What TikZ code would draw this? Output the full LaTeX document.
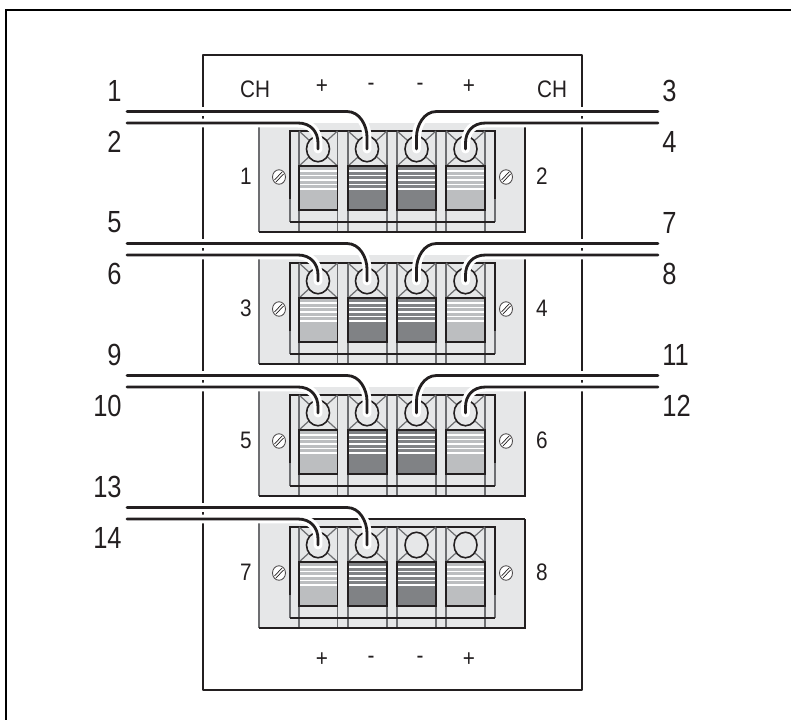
\documentclass[tikz,border=0pt]{standalone}
\usepackage{tkz-euclide}
\usepackage{fontspec}
\setmainfont{Liberation Sans}
\usetikzlibrary{shapes.geometric}
\definecolor{inkc}{HTML}{231F20}
\definecolor{edgec}{HTML}{6D6E71}
\definecolor{blockc}{HTML}{E6E7E8}
\definecolor{lightc}{HTML}{BCBEC0}
\definecolor{darkc}{HTML}{808285}
\tikzset{
  txt/.style={inner sep=0pt,font=\fontsize{11.8}{13}\selectfont,text=inkc,yscale=1.15,transform shape},
  num/.style={inner sep=0pt,font=\fontsize{14.5}{16}\selectfont,text=inkc,yscale=1.2,transform shape},
  thin line/.style={line width=0.7pt,color=edgec},
  dark line/.style={line width=1pt,color=inkc},
  post/.style={ellipse,draw=inkc,line width=0.9pt,fill=blockc,inner sep=0pt,minimum width=0.46cm,minimum height=0.51cm},
  screw/.style={ellipse,draw=inkc!80,line width=0.5pt,fill=white,inner sep=0pt,minimum width=0.26cm,minimum height=0.29cm},
  halo/.style={line width=5.1pt,color=white,line cap=round},
  wire/.style={line width=1.6pt,color=inkc,line cap=round},
}
\begin{document}
\begin{tikzpicture}[x=0.02cm,y=-0.02cm]
    \useasboundingbox (0,0) rectangle (791,720);
    \draw[line width=1.4pt] (6,720) -- (6,10) -- (791,10);
    \tkzDefPoints{203/55/A,582/55/B,582/690/C,203/690/D}
    \tkzDrawPolygon[line width=1.1pt,color=inkc](A,B,C,D)
    % heads of the panel
    \node[txt] (chl) at (255,89) {CH};
    \node[txt] (chr) at (552,89) {CH};
    \foreach \x/\s [count=\k] in {322/+,371/-,420/-,469/+}{
        \node[txt] (top\k) at (\x,87) {\s};
        \node[txt] (bot\k) at (\x,660) {\s};
    }
    % the four blocks
    \foreach \i/\y in {1/123,2/255,3/387,4/519}{
        \fill[blockc] (259,\y) rectangle (525,\y+109);
        \foreach \x in {299,337.5,348,387,397,436,446,485}
            \draw[thin line] (\x,\y+8) -- (\x,\y+109);
        \draw[thin line] (290,\y+8) -- (290,\y+99);
        \draw[thin line] (495,\y+8) -- (495,\y+99);
        \draw[line width=0.8pt,color=inkc] (290,\y+76) -- (290,\y+8) -- (495,\y+8) -- (495,\y+76);
        \draw[dark line] (290,\y+99) -- (495,\y+99);
        \draw[line width=0.8pt,color=edgec] (259,\y) -- (259,\y+109);
        \draw[dark line] (259,\y+109) -- (525,\y+109) -- (525,\y);
        \ifnum\i=4 \draw[dark line] (259,\y) -- (525,\y); \fi
        \foreach \j/\x/\w/\c/\cx in {1/299/38.5/lightc/318,2/348/39/darkc/367,3/397/39/darkc/416.5,4/446/39/lightc/465.5}{
            \draw[thin line] (\x,\y+8) -- (\x+\w,\y+43);
            \draw[thin line] (\x,\y+43) -- (\x+\w,\y+8);
            \fill[\c] (\x,\y+43) rectangle (\x+\w,\y+87);
            \foreach \d in {5,9.5,14,18.5,23}
                \draw[white,line width=0.9pt] (\x,\y+43+\d) -- (\x+\w,\y+43+\d);
            \draw[line width=1.1pt,color=inkc] (\x,\y+43) rectangle (\x+\w,\y+87);
            \node[post] (p\i\j) at (\cx,\y+26) {};
        }
        % screws
        \node[screw] (sl\i) at (279,\y+54) {};
        \node[screw] (sr\i) at (506,\y+54) {};
        \foreach \n/\x in {sl/279,sr/506}{
            \draw[inkc,line width=0.4pt] (\x-3,\y+59) -- (\x+4.5,\y+51);
            \draw[inkc,line width=0.4pt] (\x-4.5,\y+57) -- (\x+3,\y+49);
        }
        \pgfmathtruncatemacro{\cha}{2*\i-1}
        \pgfmathtruncatemacro{\chb}{2*\i}
        \node[txt] (nl\i) at (246,\y+53) {\cha};
        \node[txt] (nr\i) at (542,\y+53) {\chb};
        % wires, white under black
        \coordinate (wa\i) at (127,\y-11.5);
        \coordinate (wb\i) at (127,\y);
        \coordinate (wc\i) at (658,\y-11.5);
        \coordinate (wd\i) at (658,\y);
        \foreach \st in {halo,wire}{
            \draw[\st] (wa\i) -- ++(220,0) .. controls +(13,0) and +(0,-11) .. +(20,25.5) -- (p\i2.center);
            \draw[\st] (wb\i) -- ++(171,0) .. controls +(13,0) and +(0,-11) .. +(20,20) -- (p\i1.center);
            \ifnum\i<4
            \draw[\st] (wc\i) -- ++(-221.5,0) .. controls +(-13,0) and +(0,-11) .. +(-20,25.5) -- (p\i3.center);
            \draw[\st] (wd\i) -- ++(-172.5,0) .. controls +(-13,0) and +(0,-11) .. +(-20,20) -- (p\i4.center);
            \fi
        }
        \pgfmathtruncatemacro{\na}{4*\i-3}
        \pgfmathtruncatemacro{\nb}{4*\i-2}
        \pgfmathtruncatemacro{\nc}{4*\i-1}
        \pgfmathtruncatemacro{\nd}{4*\i}
        \node[num,anchor=east] (la\i) at (122,\y-32.5) {\na};
        \node[num,anchor=east] (lb\i) at (122,\y+19) {\nb};
        \ifnum\i<4
        \node[num,anchor=west] (lc\i) at (662,\y-32.5) {\nc};
        \node[num,anchor=west] (ld\i) at (662,\y+19) {\nd};
        \fi
    }
\end{tikzpicture}
\end{document}
